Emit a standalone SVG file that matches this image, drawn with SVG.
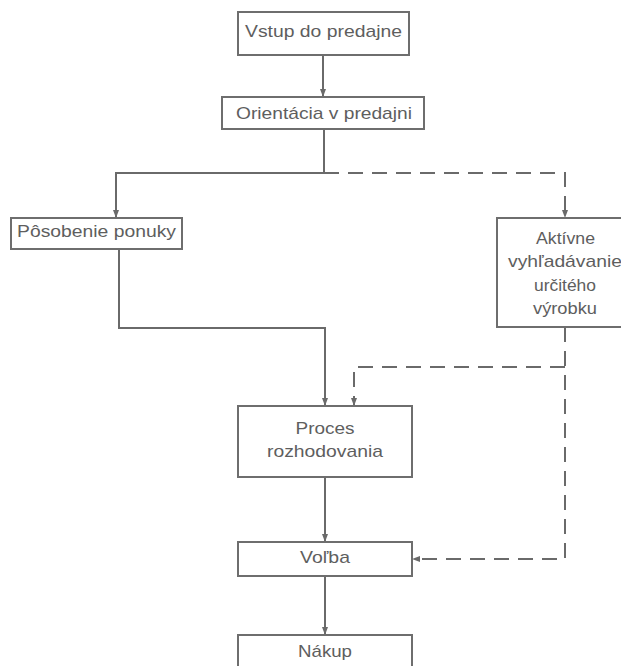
<svg xmlns="http://www.w3.org/2000/svg" width="621" height="666" viewBox="0 0 621 666">
<defs>
<style>
.box{fill:#fff;stroke:#6e6e6e;stroke-width:2}
.t{font-family:"Liberation Sans",Arial,sans-serif;font-size:17px;fill:#5e5e5e;text-anchor:middle}
.ln{fill:none;stroke:#6a6a6a;stroke-width:2}
.dash{stroke-dasharray:15 9}
</style>
<marker id="ah" viewBox="0 0 8 8" refX="8" refY="4" markerWidth="8" markerHeight="8" markerUnits="userSpaceOnUse" orient="auto">
<path d="M0,1 L8,4 L0,7 Z" fill="#6a6a6a"/>
</marker>
</defs>
<rect width="621" height="666" fill="#fff"/>
<g id="connectors">
<path class="ln" d="M323,55 V97" marker-end="url(#ah)"/>
<path class="ln" d="M324,129 V173 H116 V218" marker-end="url(#ah)"/>
<path class="ln dash" d="M324,173 H565 V218" marker-end="url(#ah)"/>
<path class="ln" d="M119,249 V328 H325 V406" marker-end="url(#ah)"/>
<path class="ln dash" d="M565,327 V559 H412" marker-end="url(#ah)"/>
<path class="ln dash" d="M565,367 H354 V406" marker-end="url(#ah)"/>
<path class="ln" d="M325,477 V542" marker-end="url(#ah)"/>
<path class="ln" d="M325,576 V635" marker-end="url(#ah)"/>
</g>
<g id="vstup">
<rect class="box" x="238" y="12" width="171" height="43"/>
<text class="t" x="323.5" y="37" textLength="157" lengthAdjust="spacingAndGlyphs">Vstup do predajne</text>
</g>
<g id="orientacia">
<rect class="box" x="222" y="97" width="202" height="32"/>
<text class="t" x="324" y="119" textLength="176" lengthAdjust="spacingAndGlyphs">Orientácia v predajni</text>
</g>
<g id="posobenie">
<rect class="box" x="11" y="218" width="171" height="31"/>
<text class="t" x="96.5" y="237" textLength="159" lengthAdjust="spacingAndGlyphs">Pôsobenie ponuky</text>
</g>
<g id="aktivne">
<rect class="box" x="497" y="218" width="136" height="109"/>
<text class="t" x="565.5" y="244" textLength="59" lengthAdjust="spacingAndGlyphs">Aktívne</text>
<text class="t" x="565" y="267" textLength="114" lengthAdjust="spacingAndGlyphs">vyhľadávanie</text>
<text class="t" x="565" y="291" textLength="62" lengthAdjust="spacingAndGlyphs">určitého</text>
<text class="t" x="565" y="314" textLength="64" lengthAdjust="spacingAndGlyphs">výrobku</text>
</g>
<g id="proces">
<rect class="box" x="238" y="406" width="174" height="71"/>
<text class="t" x="325" y="434" textLength="59" lengthAdjust="spacingAndGlyphs">Proces</text>
<text class="t" x="325" y="457" textLength="116" lengthAdjust="spacingAndGlyphs">rozhodovania</text>
</g>
<g id="volba">
<rect class="box" x="238" y="542" width="174" height="34"/>
<text class="t" x="325" y="563" textLength="50" lengthAdjust="spacingAndGlyphs">Voľba</text>
</g>
<g id="nakup">
<rect class="box" x="238" y="635" width="174" height="40"/>
<text class="t" x="325" y="657" textLength="54" lengthAdjust="spacingAndGlyphs">Nákup</text>
</g>
</svg>
